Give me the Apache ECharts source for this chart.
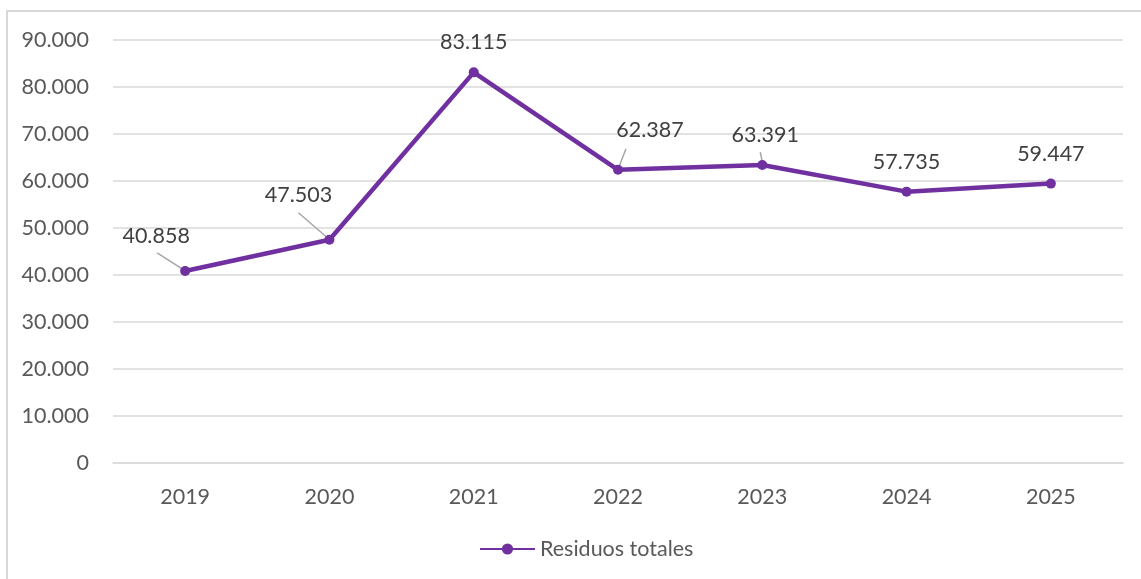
<!DOCTYPE html>
<html>
<head>
<meta charset="utf-8">
<script src="https://cdn.jsdelivr.net/npm/echarts@6/dist/echarts.min.js"></script>
<style>
    html, body { margin: 0; padding: 0; background: #fff; overflow: hidden; }
    .frame { position: absolute; left: 6px; top: 10px; width: 1200px; height: 600px; border: 2px solid #d9d9d9; box-sizing: border-box; }
    #chart { position: absolute; left: 0; top: 0; width: 1141px; height: 579px; }
</style>
</head>
<body>
<div class="frame"></div>
<div id="chart"></div>
<script>
    // datos
    const years = ['2019', '2020', '2021', '2022', '2023', '2024', '2025'];
    const residuos = [40858, 47503, 83115, 62387, 63391, 57735, 59447];
    const seriesName = 'Residuos totales';

    // desplazamiento de etiquetas (como en Excel)
    const labelShift = [[-29, -14], [-31, -24], [0, -9], [32, -19], [3, -9], [0, -9], [0, -9]];
    // líneas guía: [índice, inicio dx, inicio dy, fin dx, fin dy] en px respecto al punto
    const leaders = [[0, -3, -2, -28, -18], [1, -2, -2, -31, -27], [3, 1, -3, 8, -21], [4, 0, -3, -2, -13]];

    const fmt = v => String(v).replace(/\B(?=(\d{3})+(?!\d))/g, '.');
    const font = 'Lato, "Open Sans", sans-serif';
    const fs = 21.5;

    const chart = echarts.init(document.getElementById('chart'));
    chart.setOption({
        animation: false,
        textStyle: { fontFamily: font },
        grid: { left: 113, right: 18, top: 40, bottom: 116, containLabel: false },
        legend: {
            bottom: 14,
            left: 474,
            data: [seriesName],
            itemWidth: 55,
            itemHeight: 14,
            itemGap: 6,
            textStyle: { fontSize: fs, color: '#595959', fontFamily: font }
        },
        xAxis: {
            type: 'category',
            data: years,
            axisLine: { lineStyle: { color: '#d9d9d9', width: 1.5 } },
            axisTick: { show: false },
            axisLabel: { fontSize: fs, color: '#595959', margin: 23, fontFamily: font }
        },
        yAxis: {
            type: 'value',
            min: 0,
            max: 90000,
            interval: 10000,
            axisLine: { show: false },
            axisTick: { show: false },
            axisLabel: { fontSize: fs, color: '#595959', margin: 24, formatter: fmt, fontFamily: font },
            splitLine: { lineStyle: { color: '#d9d9d9', width: 1.5 } }
        },
        series: [
            {
                // líneas guía de las etiquetas
                type: 'custom',
                silent: true,
                z: 1,
                data: leaders.map(l => [l[0], residuos[l[0]]]),
                renderItem: (params, api) => {
                    const l = leaders[params.dataIndex];
                    const p = api.coord([api.value(0), api.value(1)]);
                    return {
                        type: 'line',
                        shape: { x1: p[0] + l[1], y1: p[1] + l[2], x2: p[0] + l[3], y2: p[1] + l[4] },
                        style: { stroke: '#a6a6a6', lineWidth: 1.5 }
                    };
                }
            },
            {
                name: seriesName,
                type: 'line',
                z: 3,
                data: residuos,
                symbol: 'circle',
                symbolSize: 10,
                lineStyle: { color: '#7030A0', width: 4.5 },
                itemStyle: { color: '#7030A0' },
                label: {
                    show: true,
                    position: 'top',
                    distance: 5,
                    fontSize: fs,
                    color: '#404040',
                    fontFamily: font,
                    formatter: p => fmt(p.value)
                },
                labelLayout: params => ({
                    dx: labelShift[params.dataIndex][0],
                    dy: labelShift[params.dataIndex][1]
                })
            }
        ]
    });
</script>
</body>
</html>
